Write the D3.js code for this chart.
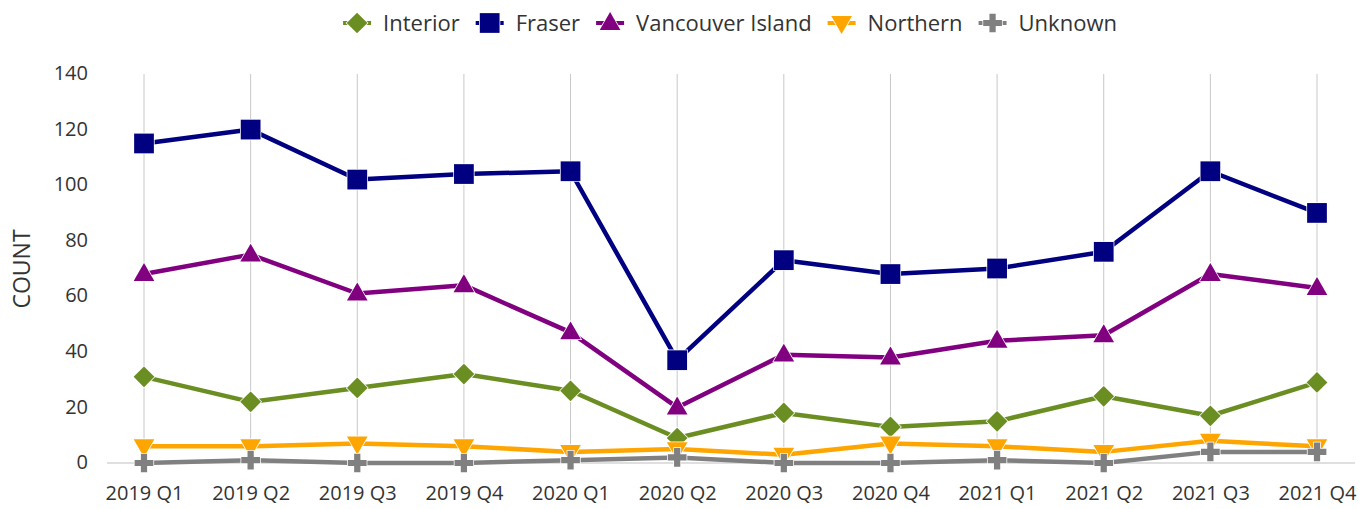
<!DOCTYPE html>
<html>
<head>
<meta charset="utf-8">
<script src="https://cdn.jsdelivr.net/npm/d3@7"></script>
<style>
  html, body { margin: 0; padding: 0; background: #ffffff; }
  svg { display: block; font-family: "Open Sans", "Noto Sans", sans-serif; }
</style>
</head>
<body>
<svg id="chart" width="1362" height="509"></svg>
<script>
const categories = ["2019 Q1","2019 Q2","2019 Q3","2019 Q4","2020 Q1","2020 Q2","2020 Q3","2020 Q4","2021 Q1","2021 Q2","2021 Q3","2021 Q4"];
const interior = [31, 22, 27, 32, 26, 9, 18, 13, 15, 24, 17, 29];
const fraser = [115, 120, 102, 104, 105, 37, 73, 68, 70, 76, 105, 90];
const vancouverIsland = [68, 75, 61, 64, 47, 20, 39, 38, 44, 46, 68, 63];
const northern = [6, 6, 7, 6, 4, 5, 3, 7, 6, 4, 8, 6];
const unknown = [0, 1, 0, 0, 1, 2, 0, 0, 1, 0, 4, 4];
const yTicks = [0, 20, 40, 60, 80, 100, 120, 140];
const yTitle = "COUNT";

const seriesNames = ["Interior", "Fraser", "Vancouver Island", "Northern", "Unknown"];
const seriesValues = [interior, fraser, vancouverIsland, northern, unknown];
const seriesColors = ["#6B8E23", "#000080", "#800080", "#FFA500", "#808080"];

const series = seriesNames.map((name, i) => ({ name, values: seriesValues[i], color: seriesColors[i] }));

const svg = d3.select("#chart");
const x = d3.scalePoint().domain(categories).range([144, 1317]);
const y = d3.scaleLinear().domain([0, 140]).range([463, 74]);

// vertical gridlines
svg.append("g").selectAll("line").data(categories).join("line")
  .attr("x1", d => x(d)).attr("x2", d => x(d))
  .attr("y1", y(140)).attr("y2", y(0))
  .attr("stroke", "#c8c8c8").attr("stroke-width", 1);

// baseline
svg.append("line")
  .attr("x1", 107).attr("x2", 1355)
  .attr("y1", y(0)).attr("y2", y(0))
  .attr("stroke", "#d4d4d4").attr("stroke-width", 1.5);

// y axis
const yAxis = svg.append("g").attr("transform", "translate(96,0)")
  .call(d3.axisLeft(y).tickValues(yTicks).tickSize(0).tickPadding(8));
yAxis.select(".domain").remove();
yAxis.selectAll("text").attr("font-size", 20).attr("fill", "#333").attr("font-family", "Open Sans").attr("dy", "0.28em");

// x axis
const xAxis = svg.append("g").attr("transform", `translate(0,${y(0)})`)
  .call(d3.axisBottom(x).tickSize(0).tickPadding(23));
xAxis.select(".domain").remove();
xAxis.selectAll("text").attr("font-size", 20).attr("fill", "#333").attr("font-family", "Open Sans");

// y title
svg.append("text")
  .attr("transform", "translate(30,269) rotate(-90)")
  .attr("text-anchor", "middle")
  .attr("font-size", 23).attr("fill", "#333")
  .text(yTitle);

// marker builder
function marker(sel, i, cx, cy, color) {
  const g = sel.append("g").attr("transform", `translate(${cx},${cy})`);
  let p;
  if (i === 0) {
    p = g.append("path").attr("d", d3.symbol(d3.symbolSquare, 215)()).attr("transform", "rotate(45)");
  } else if (i === 1) {
    p = g.append("path").attr("d", d3.symbol(d3.symbolSquare, 390)());
  } else if (i === 2) {
    p = g.append("path").attr("d", d3.symbol(d3.symbolTriangle, 185)()).attr("transform", "translate(0,1)");
  } else if (i === 3) {
    p = g.append("path").attr("d", d3.symbol(d3.symbolTriangle, 185)()).attr("transform", "translate(0,-1) rotate(180)");
  } else {
    p = g.append("path").attr("d", d3.symbol(d3.symbolCross, 195)());
  }
  p.attr("fill", color).attr("stroke", "#ffffff").attr("stroke-width", 1.5).attr("paint-order", "stroke");
  return g;
}

const line = d3.line().x((d, j) => x(categories[j])).y(d => y(d));

series.forEach((s, i) => {
  const g = svg.append("g");
  g.append("path")
    .attr("d", line(s.values))
    .attr("fill", "none")
    .attr("stroke", s.color)
    .attr("stroke-width", 4.5)
    .attr("stroke-linejoin", "round");
  s.values.forEach((v, j) => marker(g, i, x(categories[j]), y(v), s.color));
});

// legend
const legend = svg.append("g");
let cursor = 0;
const items = [];
const gapAfter = 30;
const textOffset = 26;
series.forEach((s, i) => {
  const it = legend.append("g");
  it.append("line").attr("x1", -14).attr("x2", 14).attr("y1", 0).attr("y2", 0)
    .attr("stroke", s.color).attr("stroke-width", 4);
  marker(it, i, 0, 0, s.color);
  const t = it.append("text").attr("x", textOffset).attr("dy", "0.35em")
    .attr("font-size", 22).attr("fill", "#333").text(s.name);
  const w = t.node().getComputedTextLength();
  items.push({ it, start: cursor });
  cursor += textOffset + w + gapAfter;
});
const totalW = cursor - gapAfter + 14;
const startX = 730 - totalW / 2 + 14;
items.forEach(d => d.it.attr("transform", `translate(${startX + d.start},23)`));
</script>
</body>
</html>
